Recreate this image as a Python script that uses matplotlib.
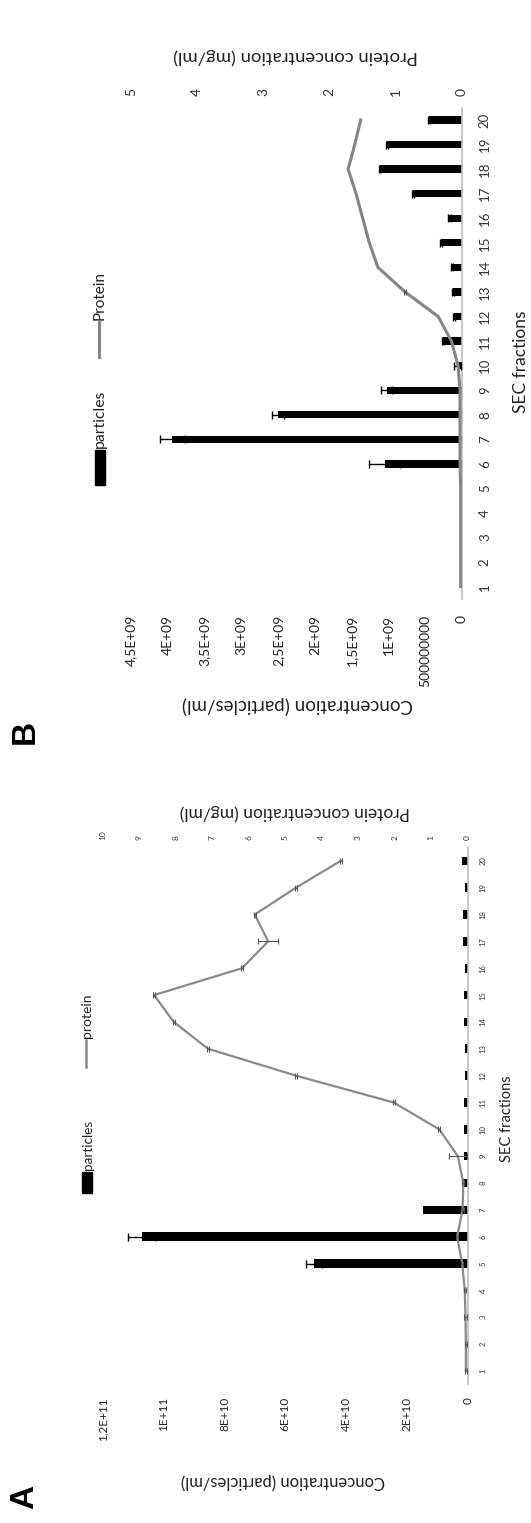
import matplotlib
matplotlib.use("Agg")
import matplotlib.pyplot as plt
from matplotlib.patches import Rectangle
from matplotlib.lines import Line2D

plt.rcParams['font.family'] = ['Lato', 'DejaVu Sans']

W, H, DPI = 531, 1523, 100

fractions = list(range(1, 21))
fraction_labels = [str(f) for f in fractions]

# Panel A: particle concentration (particles/ml) and protein (mg/ml) per SEC fraction
a_particles = [0, 0, 0, 0, 5.05e10, 1.073e11, 1.48e10, 1.45e9, 1.3e9, 1.2e9,
               1.3e9, 1.0e9, 1.0e9, 1.2e9, 1.2e9, 1.0e9, 1.5e9, 1.5e9, 0.9e9, 1.8e9]
a_particles_err = [0, 0, 0, 0, 2.6e9, 4.4e9, 0, 0, 0, 0,
                   0, 0, 0, 0, 0, 0, 0, 0, 0, 0]
a_protein = [0.05, 0.05, 0.06, 0.08, 0.15, 0.29, 0.14, 0.12, 0.27, 0.78,
             2.03, 4.71, 7.12, 8.06, 8.60, 6.19, 5.47, 5.84, 4.71, 3.48]
a_protein_err = [0.03, 0.03, 0.03, 0.03, 0.03, 0.03, 0.03, 0.03, 0.24, 0.03,
                 0.03, 0.03, 0.03, 0.03, 0.03, 0.03, 0.28, 0.03, 0.03, 0.03]
a_particle_ticks = [0, 2e10, 4e10, 6e10, 8e10, 1e11, 1.2e11]
a_particle_ticklabels = ["0", "2E+10", "4E+10", "6E+10", "8E+10", "1E+11", "1,2E+11"]
a_protein_ticks = list(range(0, 11))

# Panel B
b_particles = [0, 0, 0, 0, 0, 1.05e9, 3.94e9, 2.50e9, 1.02e9, 0.06e9,
               0.26e9, 0.11e9, 0.127e9, 0.14e9, 0.285e9, 0.17e9, 0.67e9, 1.12e9, 1.015e9, 0.448e9]
b_particles_err = [0, 0, 0, 0, 0, 0.21e9, 0.17e9, 0.08e9, 0.075e9, 0.05e9,
                   0.015e9, 0.015e9, 0.015e9, 0.015e9, 0.015e9, 0.015e9, 0.015e9, 0.015e9, 0.015e9, 0.015e9]
b_protein = [0.02, 0.02, 0.02, 0.02, 0.02, 0.03, 0.03, 0.03, 0.03, 0.06,
             0.16, 0.36, 0.86, 1.27, 1.40, 1.50, 1.60, 1.72, 1.62, 1.53]
b_protein_err = [0, 0, 0, 0, 0, 0, 0, 0, 0, 0,
                 0, 0, 0.02, 0, 0, 0, 0, 0, 0, 0]
b_particle_ticks = [0, 5e8, 1e9, 1.5e9, 2e9, 2.5e9, 3e9, 3.5e9, 4e9, 4.5e9]
b_particle_ticklabels = ["0", "500000000", "1E+09", "1,5E+09", "2E+09", "2,5E+09",
                         "3E+09", "3,5E+09", "4E+09", "4,5E+09"]
b_protein_ticks = list(range(0, 6))

fig = plt.figure(figsize=(W / DPI, H / DPI), dpi=DPI)


def fx(px):
    return px / W


def fy(py):
    return 1 - py / H


def draw_panel(left, right, top, bottom, part, part_err, prot, prot_err,
               pmax, pticks, plabels, qmax, qticks, st):
    ax = fig.add_axes([fx(left), fy(bottom), (right - left) / W, (bottom - top) / H])
    ax.barh(fractions, part, height=st['bar_h'], color='black', zorder=2)
    idx = [i for i, e in enumerate(part_err) if e > 0]
    ax.errorbar([part[i] for i in idx], [fractions[i] for i in idx],
                xerr=[part_err[i] for i in idx], fmt='none', ecolor='black',
                elinewidth=1, capsize=st['cap'], capthick=1, zorder=3)
    ax.set_xlim(pmax, 0)
    ax.set_ylim(0.5, 20.5)
    for s in ['top', 'left', 'bottom']:
        ax.spines[s].set_visible(False)
    ax.spines['right'].set_color('#bdbdbd')
    ax.spines['right'].set_linewidth(1.2)
    ax.yaxis.tick_right()
    ax.set_yticks(fractions, fraction_labels)
    ax.tick_params(axis='y', length=0, pad=st['ypad'], labelsize=st['ysize'],
                   labelrotation=90, colors='#333333')
    plt.setp(ax.get_yticklabels(), ha='center', va='center')
    ax.set_xticks(pticks, plabels)
    ax.tick_params(axis='x', length=0, pad=st['xpad'], labelsize=st['xsize'],
                   labelrotation=90, colors='#222222')

    tw = ax.twiny()
    tw.set_xlim(qmax, 0)
    for s in tw.spines.values():
        s.set_visible(False)
    tw.set_xticks(qticks, [str(q) for q in qticks])
    tw.tick_params(axis='x', length=0, pad=st['qpad'], labelsize=st['qsize'],
                   labelrotation=90, colors='#333333')
    tw.plot(prot, fractions, color=st['line_c'], lw=st['line_w'], zorder=4)
    idx = [i for i, e in enumerate(prot_err) if e > 0]
    tw.errorbar([prot[i] for i in idx], [fractions[i] for i in idx],
                xerr=[prot_err[i] for i in idx], fmt='none', ecolor='#555555',
                elinewidth=0.8, capsize=2, capthick=0.8, zorder=5)
    return ax, tw


style_a = dict(bar_h=0.32, cap=3, ypad=11, ysize=5.5, xpad=9, xsize=8.5,
               qpad=5, qsize=6, line_w=1.6, line_c='#8a8a8a')
style_b = dict(bar_h=0.30, cap=3, ypad=16.5, ysize=9.5, xpad=11.5, xsize=10,
               qpad=8.5, qsize=10, line_w=2.2, line_c='#858585')

draw_panel(103, 467.7, 847.4, 1384.4, a_particles, a_particles_err, a_protein,
           a_protein_err, 1.2e11, a_particle_ticks, a_particle_ticklabels, 10,
           a_protein_ticks, style_a)
draw_panel(131, 462, 107.7, 599, b_particles, b_particles_err, b_protein,
           b_protein_err, 4.5e9, b_particle_ticks, b_particle_ticklabels, 5,
           b_protein_ticks, style_b)

# Axis titles
fig.text(fx(283), fy(1481), 'Concentration (particles/ml)', rotation=180,
         ha='center', va='center', fontsize=12, color='#222222')
fig.text(fx(295), fy(812), 'Protein concentration (mg/ml)', rotation=180,
         ha='center', va='center', fontsize=12.5, color='#222222')
fig.text(fx(507), fy(1119), 'SEC fractions', rotation=90,
         ha='center', va='center', fontsize=10.5, color='#222222')

fig.text(fx(297), fy(705), 'Concentration (particles/ml)', rotation=180,
         ha='center', va='center', fontsize=13.5, color='#222222')
fig.text(fx(296), fy(56), 'Protein concentration (mg/ml)', rotation=180,
         ha='center', va='center', fontsize=13.3, color='#222222')
fig.text(fx(521), fy(362), 'SEC fractions', rotation=90,
         ha='center', va='center', fontsize=12.5, color='#222222')

# Panel letters
fig.text(fx(25), fy(1497), 'A', rotation=90, ha='center', va='center',
         fontsize=24, fontweight='bold', family='Liberation Sans')
fig.text(fx(25), fy(732), 'B', rotation=90, ha='center', va='center',
         fontsize=24, fontweight='bold', family='Liberation Sans')


# Legends
def legend_entry_box(x0, x1, y0, y1, label, tx, ty, size):
    fig.add_artist(Rectangle((fx(x0), fy(y1)), (x1 - x0) / W, (y1 - y0) / H,
                             transform=fig.transFigure, color='black'))
    fig.text(fx(tx), fy(ty), label, rotation=90, ha='center', va='bottom',
             fontsize=size, color='#222222')


def legend_entry_line(x, y0, y1, label, tx, ty, size, color, lw):
    fig.add_artist(Line2D([fx(x), fx(x)], [fy(y1), fy(y0)],
                          transform=fig.transFigure, color=color, lw=lw))
    fig.text(fx(tx), fy(ty), label, rotation=90, ha='center', va='bottom',
             fontsize=size, color='#222222')


legend_entry_box(82, 92, 1172, 1193, 'particles', 88, 1170, 9.7)
legend_entry_line(86, 1040, 1067, 'protein', 87, 1038, 10, '#8a8a8a', 1.8)
legend_entry_box(95, 105, 450, 485, 'particles', 100, 448, 11.3)
legend_entry_line(99, 322, 357, 'Protein', 100, 320, 11, '#858585', 2.2)

fig.savefig('out.png', dpi=DPI)
